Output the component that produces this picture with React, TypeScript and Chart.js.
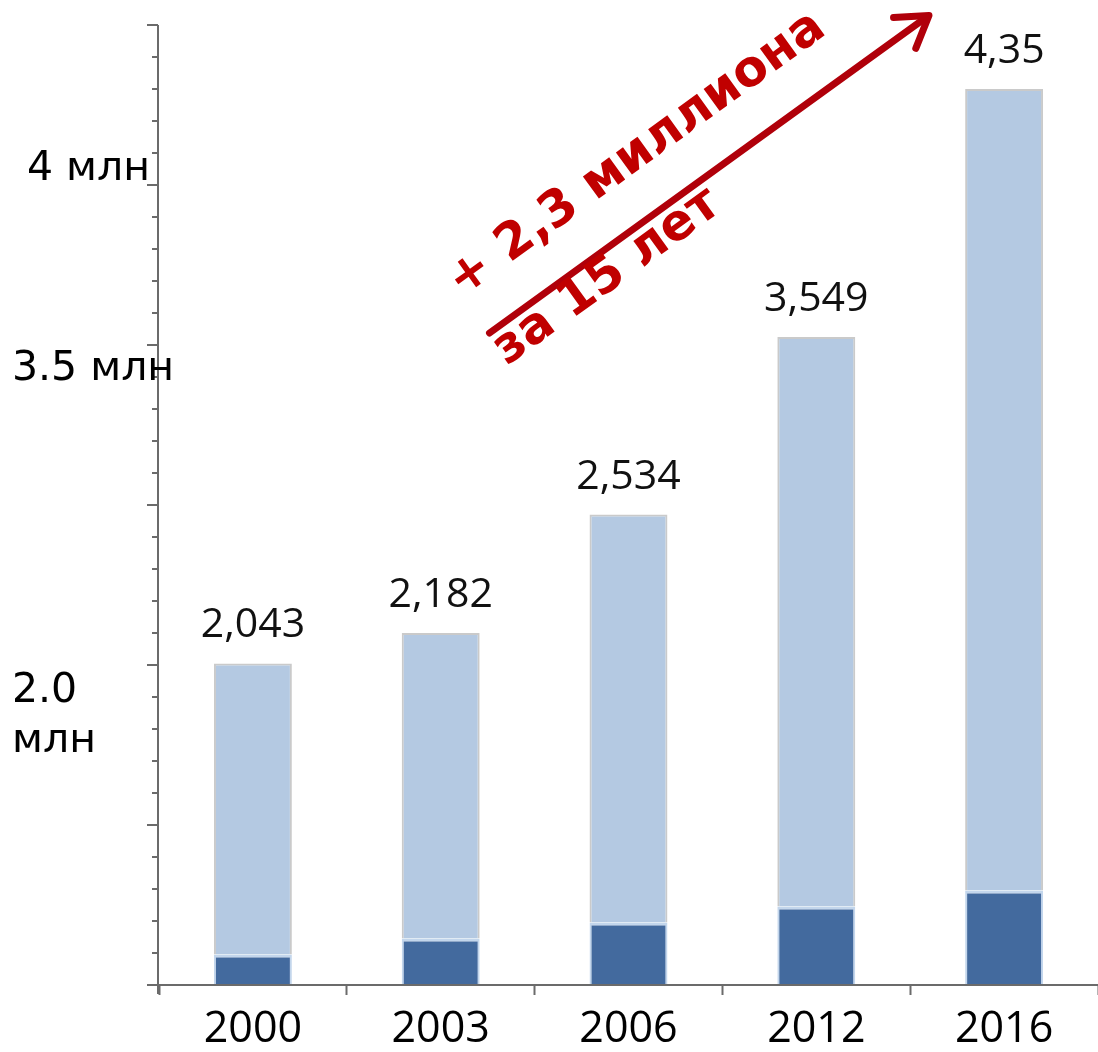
import React, { useEffect, useRef } from "react";
import { Chart, registerables } from "chart.js";

Chart.register(...registerables);

// ---- data ----
const years = ["2000", "2003", "2006", "2012", "2016"];
const valueLabels = ["2,043", "2,182", "2,534", "3,549", "4,35"];
// bar segments in the chart's own axis units (axis runs 0..6), as drawn
const darkPart = [0.19, 0.29, 0.39, 0.49, 0.59];
const lightPart = [1.82, 1.91, 2.55, 3.56, 5.01];
// free-standing y-axis captions and the axis value of their baselines
const yCaptionText = ["4 млн", "3.5 млн", "2.0", "млн"];
const yCaptionAt = [5.03, 3.78, 1.77, 1.456];
const yCaptionIndent = [132, 147, 147, 147];
// growth annotation
const growthLines = ["+ 2,3 миллиона", "за 15 лет"];
const arrowFrom = { x: 1.26, y: 4.075 }; // category index, axis value
const arrowTo = { x: 3.6, y: 6.06 };

const AXIS_MIN = 0;
const AXIS_MAX = 6;
const AXIS_STEP = 0.2;

const AXIS_COLOR = "#6b6b6b";
const RED = "#C00000";

const annotationPlugin = {
  id: "annotations",
  afterDatasetsDraw(chart: any) {
    const { ctx, chartArea, scales } = chart;
    const xs = scales.x;
    const ys = scales.y;
    ctx.save();

    // y axis line + ticks
    ctx.strokeStyle = AXIS_COLOR;
    ctx.lineWidth = 2;
    ctx.beginPath();
    ctx.moveTo(chartArea.left - 1, chartArea.top);
    ctx.lineTo(chartArea.left - 1, chartArea.bottom + 9);
    ctx.stroke();
    ys.ticks.forEach((t: any) => {
      const v = t.value;
      const y = Math.round(ys.getPixelForValue(v));
      const major = Math.abs(v - Math.round(v)) < 1e-6;
      ctx.beginPath();
      ctx.moveTo(chartArea.left - 1 - (major ? 11 : 6), y);
      ctx.lineTo(chartArea.left - 1, y);
      ctx.stroke();
    });
    // x axis line
    ctx.beginPath();
    ctx.moveTo(chartArea.left - 11, chartArea.bottom);
    ctx.lineTo(chartArea.right, chartArea.bottom);
    ctx.stroke();

    // y captions
    ctx.fillStyle = "#000";
    ctx.font = "41px 'DejaVu Sans'";
    ctx.textAlign = "left";
    ctx.textBaseline = "alphabetic";
    yCaptionText.forEach((txt, i) => {
      ctx.fillText(txt, chartArea.left - yCaptionIndent[i], ys.getPixelForValue(yCaptionAt[i]));
    });

    // value labels above bars
    const top = chart.getDatasetMeta(1);
    ctx.font = "41px 'Open Sans'";
    ctx.textAlign = "center";
    ctx.fillStyle = "#111";
    top.data.forEach((el: any, i: number) => {
      ctx.fillText(valueLabels[i], el.x, el.y - 26);
    });

    // arrow
    const x0 = xs.getPixelForValue(arrowFrom.x);
    const y0 = ys.getPixelForValue(arrowFrom.y);
    const x1 = xs.getPixelForValue(arrowTo.x);
    const y1 = ys.getPixelForValue(arrowTo.y);
    const ang = Math.atan2(y1 - y0, x1 - x0);
    const len = Math.hypot(x1 - x0, y1 - y0);
    ctx.translate(x0, y0);
    ctx.rotate(ang);
    ctx.strokeStyle = "#B0000A";
    ctx.lineCap = "round";
    ctx.lineJoin = "round";
    ctx.lineWidth = 7;
    ctx.beginPath();
    ctx.moveTo(0, 0);
    ctx.lineTo(len - 3, 0);
    ctx.stroke();
    ctx.beginPath();
    ctx.moveTo(len - 30, -19);
    ctx.lineTo(len, 0);
    ctx.lineTo(len - 30, 19);
    ctx.stroke();

    // growth text along arrow
    ctx.fillStyle = RED;
    ctx.font = "bold 50px 'DejaVu Sans'";
    ctx.textAlign = "center";
    ctx.textBaseline = "middle";
    ctx.fillText(growthLines[0], 224, -58);
    ctx.fillText(growthLines[1], 128, 24);
    ctx.restore();
  },
};

export default function App() {
  const ref = useRef<HTMLCanvasElement | null>(null);
  useEffect(() => {
    document.body.style.margin = "0";
    const chart = new Chart(ref.current as HTMLCanvasElement, {
      type: "bar",
      data: {
        labels: years,
        datasets: [
          {
            data: darkPart,
            backgroundColor: "#436A9E",
            borderColor: "#C3D6EC",
            borderWidth: { top: 3, left: 2, right: 2, bottom: 0 },
            borderSkipped: false,
            categoryPercentage: 1,
            barPercentage: 0.415,
          },
          {
            data: lightPart,
            backgroundColor: "#B4C9E2",
            borderColor: "#CACACA",
            borderWidth: 2,
            borderSkipped: "start",
            categoryPercentage: 1,
            barPercentage: 0.415,
          },
        ],
      },
      options: {
        animation: false,
        responsive: true,
        maintainAspectRatio: false,
        layout: { padding: { top: 25, right: 0, left: 0, bottom: 0 } },
        plugins: { legend: { display: false }, tooltip: { enabled: false } },
        scales: {
          x: {
            stacked: true,
            offset: true,
            grid: {
              display: true,
              offset: true,
              drawOnChartArea: false,
              drawTicks: true,
              tickLength: 10,
              tickColor: AXIS_COLOR,
              tickWidth: 2,
              color: AXIS_COLOR,
            },
            border: { display: false },
            ticks: {
              color: "#000",
              font: { family: "'Open Sans'", size: 43 },
              padding: 9,
              maxRotation: 0,
            },
            afterFit: (s: any) => {
              s.height = 67;
            },
          },
          y: {
            stacked: true,
            min: AXIS_MIN,
            max: AXIS_MAX,
            ticks: { display: false, stepSize: AXIS_STEP },
            grid: { display: false },
            border: { display: false },
            afterFit: (s: any) => {
              s.width = 159;
            },
          },
        },
      },
      plugins: [annotationPlugin],
    });
    return () => chart.destroy();
  }, []);
  return (
    <div style={{ width: 1098, height: 1052, position: "relative", background: "#fff" }}>
      <canvas ref={ref} />
    </div>
  );
}
